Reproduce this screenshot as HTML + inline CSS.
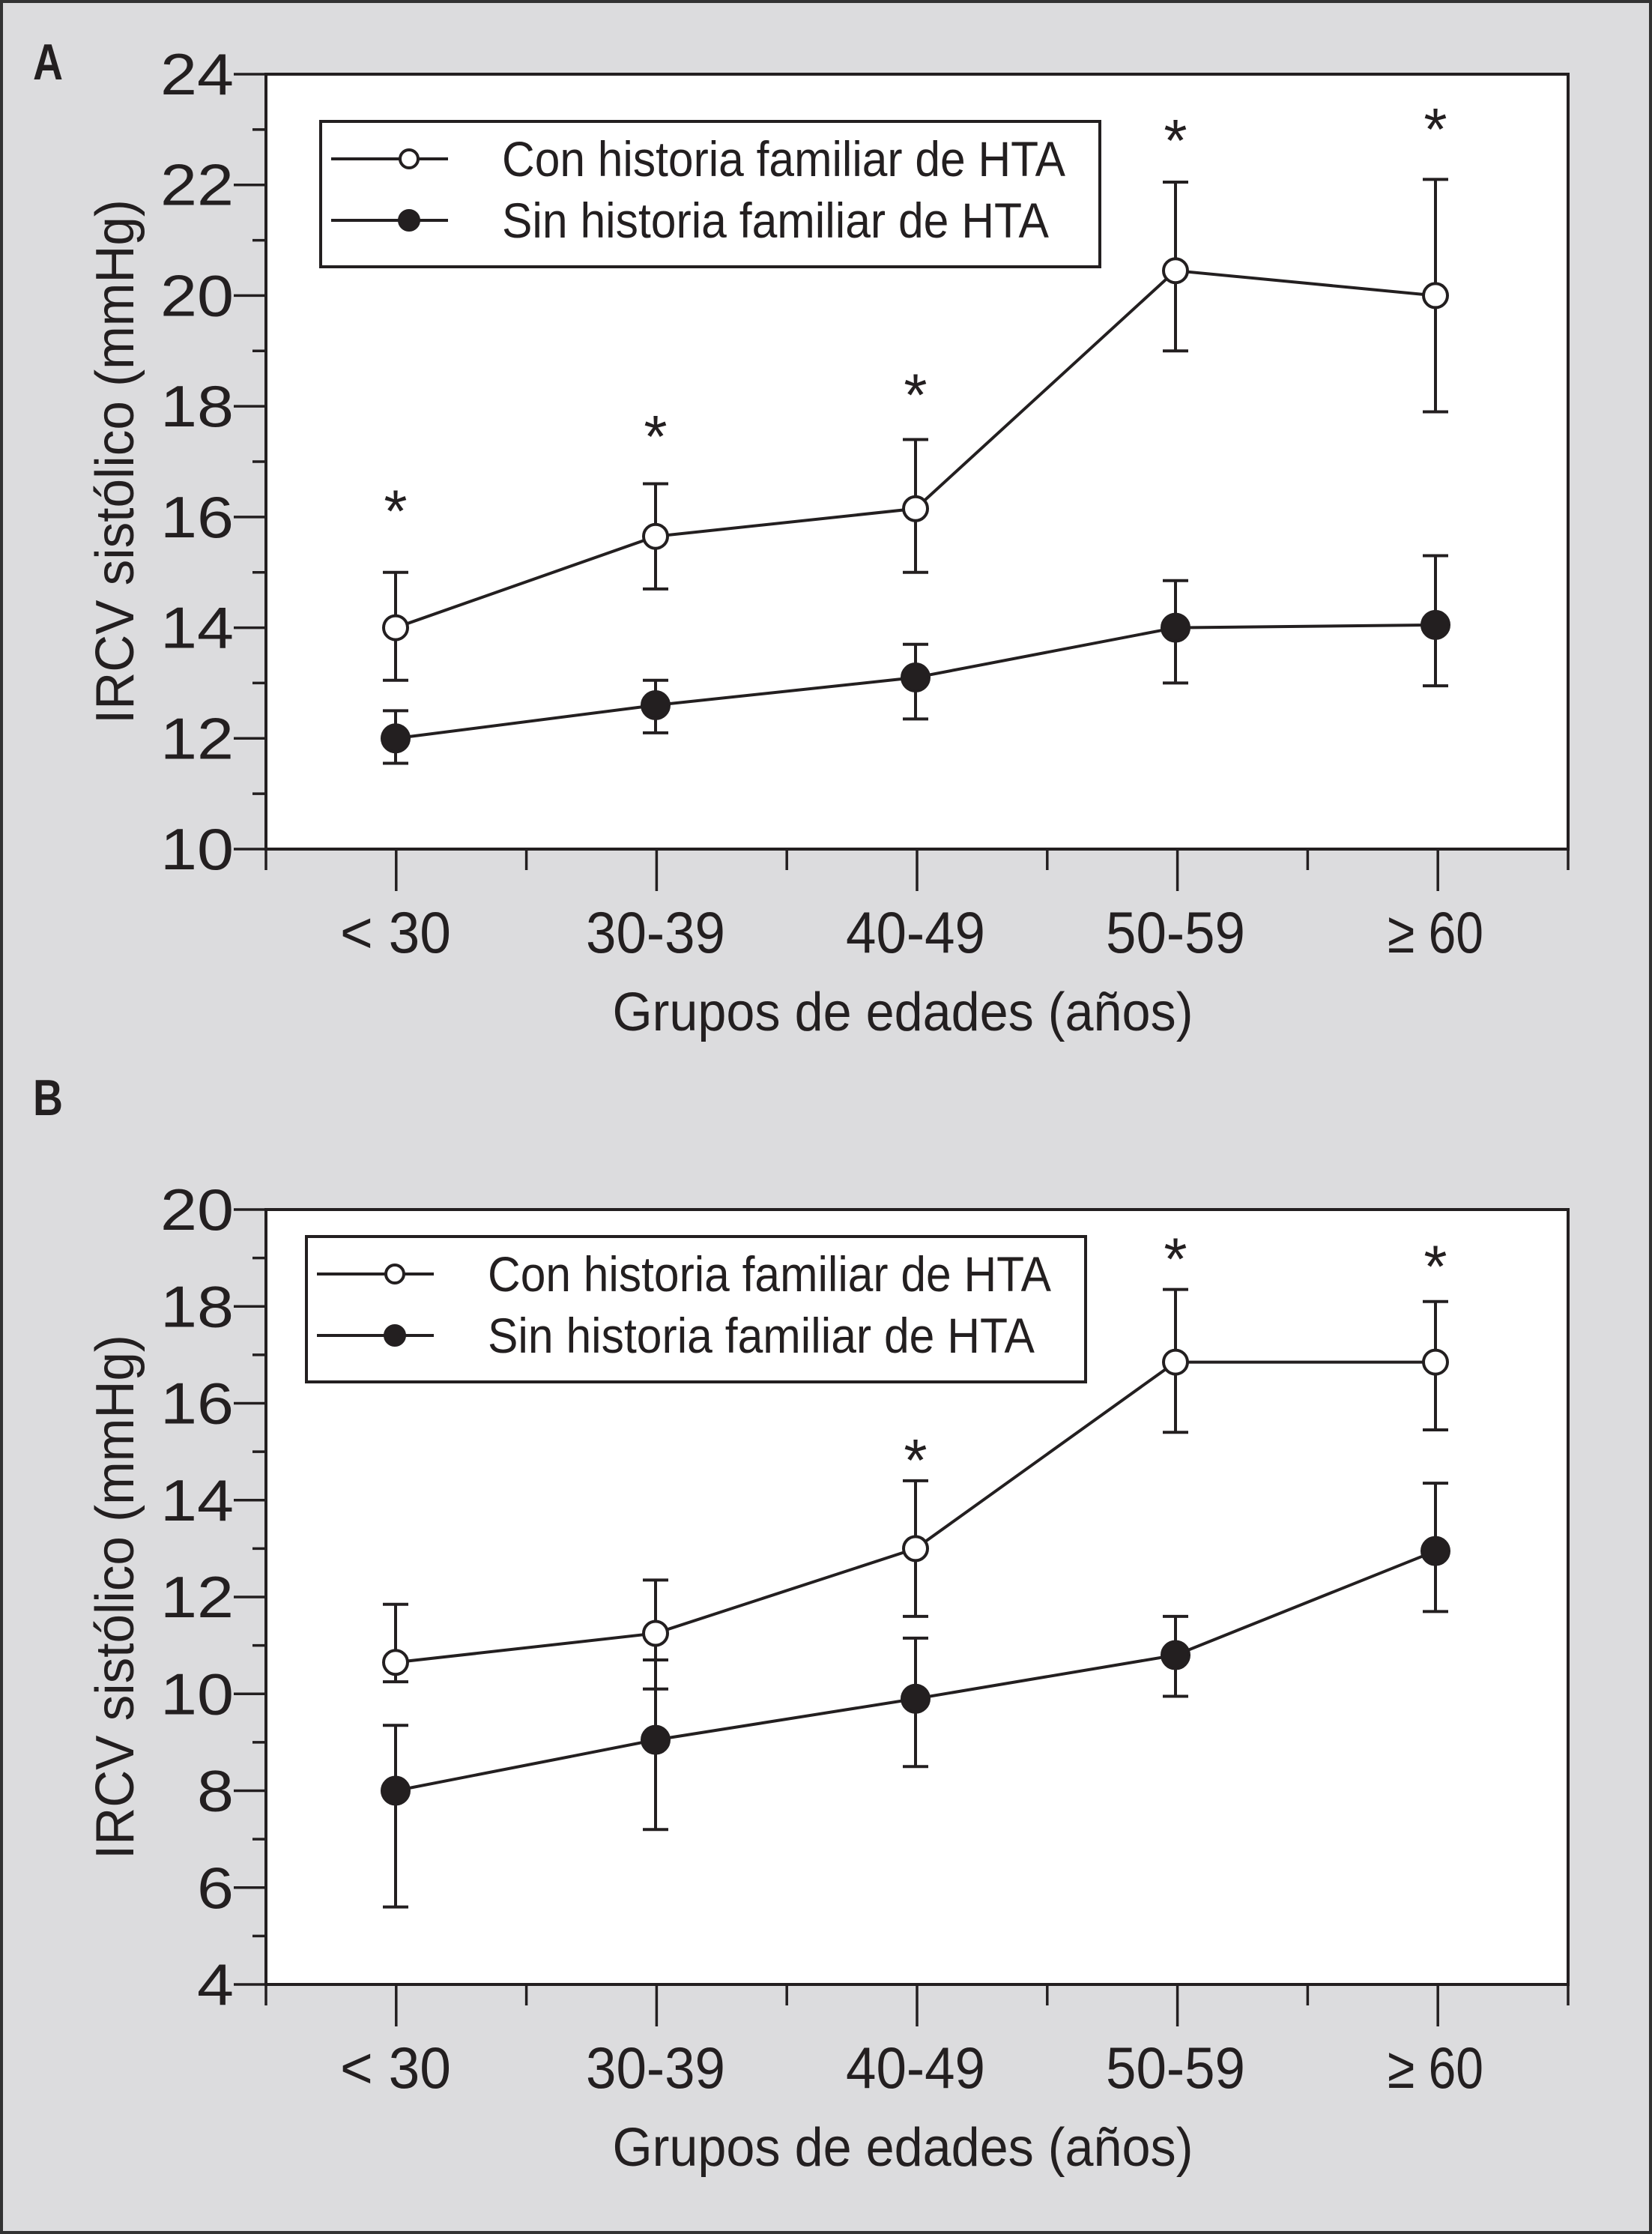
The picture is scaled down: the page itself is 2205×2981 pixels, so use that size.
<!DOCTYPE html>
<html><head><meta charset="utf-8"><style>
html,body{margin:0;padding:0;background:#dcdcde}
svg{display:block}
text{font-family:"Liberation Sans",sans-serif;fill:#231f20}
</style></head><body>
<svg id="fig" width="2205" height="2981" viewBox="0 0 2205 2981" xmlns="http://www.w3.org/2000/svg">
<rect x="2" y="2" width="2201" height="2977" fill="#dcdcde" stroke="#333" stroke-width="4"/>
<text x="44" y="106" font-size="68" font-weight="bold" textLength="40" lengthAdjust="spacingAndGlyphs">A</text>
<text x="44" y="1488" font-size="68" font-weight="bold" textLength="40" lengthAdjust="spacingAndGlyphs">B</text>
<g id="pa"></g>
<g id="pb"></g>
</svg>
<script>
const categories = ["< 30","30-39","40-49","50-59","≥ 60"];
const seriesNames = ["Con historia familiar de HTA","Sin historia familiar de HTA"];
// Panel A
const aOpenMean = [14.0,15.65,16.15,20.45,20.0];
const aOpenLo = [13.05,14.7,15.0,19.0,17.9];
const aOpenHi = [15.0,16.6,17.4,22.05,22.1];
const aFillMean = [12.0,12.6,13.1,14.0,14.05];
const aFillLo = [11.55,12.1,12.35,13.0,12.95];
const aFillHi = [12.5,13.05,13.7,14.85,15.3];
const aStarVal = [16.3,17.65,18.4,23.0,23.2];
const aTicks = [10,12,14,16,18,20,22,24];
// Panel B
const bOpenMean = [10.65,11.25,13.0,16.85,16.85];
const bOpenLo = [10.25,10.1,11.6,15.4,15.45];
const bOpenHi = [11.85,12.35,14.4,18.35,18.1];
const bFillMean = [8.0,9.05,9.9,10.8,12.95];
const bFillLo = [5.6,7.2,8.5,9.95,11.7];
const bFillHi = [9.35,10.7,11.15,11.6,14.35];
const bStarVal = [null,null,15.05,19.2,19.05];
const bTicks = [4,6,8,10,12,14,16,18,20];

const NS="http://www.w3.org/2000/svg";
function mk(parent,tag,attrs,txt){const e=document.createElementNS(NS,tag);for(const k in attrs)e.setAttribute(k,attrs[k]);if(txt!=null)e.textContent=txt;parent.appendChild(e);return e;}

function drawPanel(g,cfg){
  const L=355,R=2093,T=cfg.top,B=cfg.bottom,ymin=cfg.ticks[0],ymax=cfg.ticks[cfg.ticks.length-1];
  const y=v=>B-(v-ymin)/(ymax-ymin)*(B-T);
  const cx=i=>528+i*347;
  const box=mk(g,'rect',{x:L,y:T,width:R-L,height:B-T,fill:'#fff',stroke:'#231f20','stroke-width':4});
  
  
  for(let v=ymin;v<=ymax;v++){
    const major=cfg.ticks.includes(v);
    const t=mk(g,'line',{x1:major?312:337,x2:L,y1:y(v),y2:y(v),stroke:'#231f20','stroke-width':3.5});
    
    
  }
  cfg.ticks.forEach(v=>{
    const s=String(v);
    const t=mk(g,'text',{x:312,y:y(v)+27,'font-size':78,'text-anchor':'end',textLength:49*s.length,lengthAdjust:'spacingAndGlyphs'},s);
    
    
  });
  for(let k=0;k<=10;k++){
    const xx=355+k*173.8;
    const major=k%2===1;
    const t=mk(g,'line',{x1:xx,x2:xx,y1:B,y2:B+(major?56:28),stroke:'#231f20','stroke-width':3.5});
    
    
  }
  const xlw=[148,186,186,186,128];
  categories.forEach((c,i)=>{
    const t=mk(g,'text',{x:cx(i),y:B+138,'font-size':78,'text-anchor':'middle',textLength:xlw[i],lengthAdjust:'spacingAndGlyphs'},c);
    
    
  });
  const xtl=mk(g,'text',{x:1205,y:B+242,'font-size':72,'text-anchor':'middle',textLength:775,lengthAdjust:'spacingAndGlyphs'},'Grupos de edades (años)');
  
  
  const ym=(T+B)/2;
  const ytl=mk(g,'text',{x:0,y:0,'font-size':72,'text-anchor':'middle',textLength:700,lengthAdjust:'spacingAndGlyphs',transform:`translate(178,${ym}) rotate(-90)`},'IRCV sistólico (mmHg)');
  
  
  const series=[{m:cfg.fm,lo:cfg.flo,hi:cfg.fhi,fill:'#231f20',name:'filled'},{m:cfg.om,lo:cfg.olo,hi:cfg.ohi,fill:'#fff',name:'open'}];
  series.forEach(s=>{
    const pts=s.m.map((v,i)=>cx(i)+','+y(v)).join(' ');
    const pl=mk(g,'polyline',{points:pts,fill:'none',stroke:'#231f20','stroke-width':4});
    
    
    s.m.forEach((v,i)=>{
      const eb=mk(g,'path',{d:`M${cx(i)},${y(s.lo[i])}V${y(s.hi[i])}M${cx(i)-17},${y(s.lo[i])}h34M${cx(i)-17},${y(s.hi[i])}h34`,stroke:'#231f20','stroke-width':4,fill:'none'});
      
      
    });
  });
  series.forEach(s=>{
    s.m.forEach((v,i)=>{
      const c=mk(g,'circle',{cx:cx(i),cy:y(v),r:s.name==='open'?16:18,fill:s.fill,stroke:'#231f20','stroke-width':4});
      
      
    });
  });
  cfg.stars.forEach((v,i)=>{
    if(v==null)return;
    const t=mk(g,'text',{x:cx(i),y:y(v)+42,'font-size':80,'text-anchor':'middle'},'*');
    
    
  });
  const lg=cfg.leg;
  const lb=mk(g,'rect',{x:lg.x,y:lg.y,width:1040,height:194,fill:'#fff',stroke:'#231f20','stroke-width':4});
  
  
  [[0,'#fff',16],[1,'#231f20',17]].forEach(([k,f,r])=>{
    const ry=lg.y+(k===0?50:132);
    const ln=mk(g,'line',{x1:lg.x+14,x2:lg.x+170,y1:ry,y2:ry,stroke:'#231f20','stroke-width':4});
    
    
    const c=mk(g,'circle',{cx:lg.x+118,cy:ry,r:r-4,fill:f,stroke:'#231f20','stroke-width':4});
    
    
    const t=mk(g,'text',{x:lg.x+242,y:ry+23,'font-size':66,textLength:k===0?752:730,lengthAdjust:'spacingAndGlyphs'},seriesNames[k]);
    
    
  });
}
drawPanel(document.getElementById('pa'),{top:99,bottom:1133,ticks:aTicks,om:aOpenMean,olo:aOpenLo,ohi:aOpenHi,fm:aFillMean,flo:aFillLo,fhi:aFillHi,stars:aStarVal,leg:{x:428,y:162}});
drawPanel(document.getElementById('pb'),{top:1614,bottom:2648,ticks:bTicks,om:bOpenMean,olo:bOpenLo,ohi:bOpenHi,fm:bFillMean,flo:bFillLo,fhi:bFillHi,stars:bStarVal,leg:{x:409,y:1650}});
</script>
</body></html>
